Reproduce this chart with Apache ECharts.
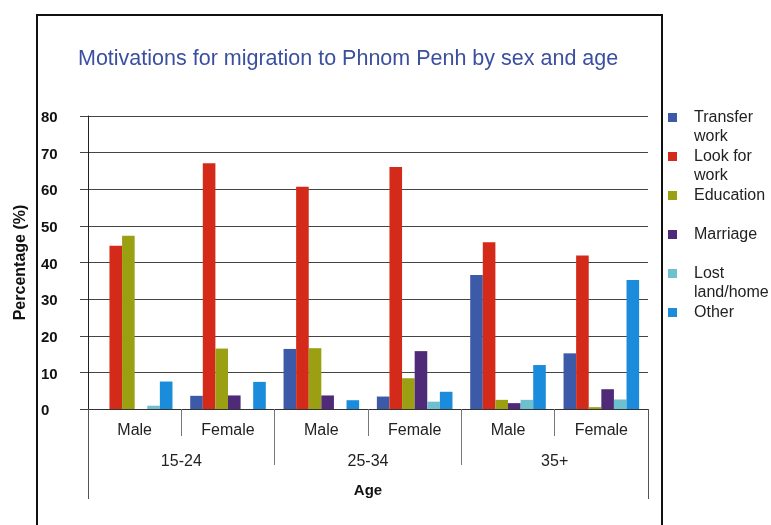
<!DOCTYPE html>
<html>
<head>
<meta charset="utf-8">
<script src="https://cdn.jsdelivr.net/npm/echarts@6/dist/echarts.min.js"></script>
<style>
html,body{margin:0;padding:0;background:#fff;}
#chart{width:771px;height:525px;}
</style>
</head>
<body>
<div id="chart"></div>
<script>
var sexes = ['Male', 'Female', 'Male', 'Female', 'Male', 'Female'];
var ageGroups = ['15-24', '25-34', '35+'];
var yTicks = [0, 10, 20, 30, 40, 50, 60, 70, 80];

var seriesNames = ['Transfer work', 'Look for work', 'Education', 'Marriage', 'Lost land/home', 'Other'];
var legendLabels = ['Transfer\nwork', 'Look for\nwork', 'Education', 'Marriage', 'Lost\nland/home', 'Other'];
var colors = ['#3D5AA8', '#D42A1A', '#9AA012', '#4E2A78', '#6EC0CE', '#1B8BDB'];

var transferWork = [0, 3.6, 16.4, 3.4, 36.6, 15.2];
var lookForWork  = [44.6, 67.1, 60.7, 66.1, 45.5, 41.9];
var education    = [47.3, 16.5, 16.6, 8.4, 2.5, 0.5];
var marriage     = [0, 3.7, 3.7, 15.8, 1.6, 5.4];
var lostLand     = [0.9, 0, 0, 2.0, 2.5, 2.6];
var other        = [7.5, 7.4, 2.4, 4.7, 12.0, 35.2];

var values = [transferWork, lookForWork, education, marriage, lostLand, other];

var FONT = '"Liberation Sans", Arial, sans-serif';
var LH = 19;

var chart = echarts.init(document.getElementById('chart'), null, {renderer: 'canvas'});

var series = seriesNames.map(function (n, i) {
  return {
    name: n,
    type: 'bar',
    xAxisIndex: 0,
    data: values[i],
    barGap: '0%',
    barCategoryGap: '19%',
    itemStyle: {color: colors[i]},
    emphasis: {disabled: true}
  };
});

var option = {
  backgroundColor: '#fff',
  animation: false,
  title: {
    text: 'Motivations for migration to Phnom Penh by sex and age',
    left: 78,
    top: 48,
    padding: 0,
    textStyle: {fontFamily: FONT, fontSize: 21.5, fontWeight: 'normal', color: '#3B4FA0'}
  },
  graphic: [{
    type: 'rect',
    shape: {x: 37, y: 15, width: 625, height: 600},
    style: {fill: 'none', stroke: '#111', lineWidth: 2},
    z: -10
  }],
  legend: {
    orient: 'vertical',
    left: 668,
    top: 89,
    padding: 0,
    itemWidth: 9,
    itemHeight: 9,
    itemGap: 39 - 3 * LH,
    icon: 'rect',
    selectedMode: false,
    data: seriesNames,
    formatter: function (name) {
      var lbl = legendLabels[seriesNames.indexOf(name)];
      return lbl.indexOf('\n') >= 0 ? '\n' + lbl : '\n' + lbl + '\n';
    },
    textStyle: {fontFamily: FONT, fontSize: 16, lineHeight: LH, color: '#222', padding: [0, 0, 0, 12]}
  },
  grid: {left: 88, right: 123, top: 116, bottom: 116, outerBoundsMode: 'none', containLabel: false},
  xAxis: [{
    type: 'category',
    position: 'bottom',
    data: sexes,
    axisLine: {show: true, lineStyle: {color: '#333', width: 1}},
    axisTick: {show: true, length: 27, interval: 0, lineStyle: {color: '#777'}},
    axisLabel: {interval: 0, margin: 14, fontFamily: FONT, fontSize: 16, color: '#222'}
  }, {
    type: 'category',
    position: 'bottom',
    data: ageGroups,
    axisLine: {show: false},
    axisTick: {show: true, length: 56, interval: 0, lineStyle: {color: '#777'}},
    axisLabel: {interval: 0, margin: 45, fontFamily: FONT, fontSize: 16, color: '#222'}
  }, {
    type: 'category',
    position: 'bottom',
    data: [''],
    axisLine: {show: false},
    axisTick: {show: true, length: 90, interval: 0, lineStyle: {color: '#555'}},
    axisLabel: {show: false},
    name: 'Age',
    nameLocation: 'middle',
    nameGap: 74,
    nameTextStyle: {fontFamily: FONT, fontSize: 15, fontWeight: 'bold', color: '#111'}
  }],
  yAxis: {
    type: 'value',
    min: yTicks[0],
    max: yTicks[yTicks.length - 1],
    interval: 10,
    name: 'Percentage (%)',
    nameLocation: 'middle',
    nameRotate: 90,
    nameGap: 59,
    nameTextStyle: {fontFamily: FONT, fontSize: 16, fontWeight: 'bold', color: '#111'},
    axisLine: {show: true, lineStyle: {color: '#222', width: 1}},
    axisTick: {show: true, length: 8, lineStyle: {color: '#444'}},
    splitLine: {show: true, lineStyle: {color: '#444', width: 1}},
    axisLabel: {align: 'left', verticalAlign: 'top', lineHeight: 4, margin: 47, fontFamily: FONT, fontSize: 15, fontWeight: 'bold', color: '#111'}
  },
  series: series
};

chart.setOption(option);
</script>
</body>
</html>
